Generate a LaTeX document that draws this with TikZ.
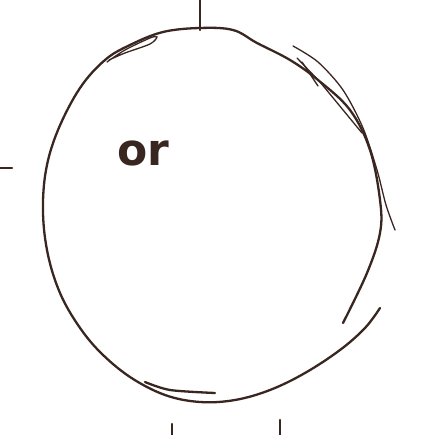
\documentclass[tikz,border=0pt]{standalone}
\usepackage{fontspec}
\setmainfont{DejaVu Sans}
\definecolor{ink}{RGB}{58,38,32}
\begin{document}
\begin{tikzpicture}[x=1pt,y=-1pt,
  pen/.style={draw=ink,line width=2.3pt,line cap=round,line join=round},
  thinpen/.style={draw=ink,line width=1.3pt,line cap=round},
  label/.style={text=ink,font=\bfseries\fontsize{44}{44}\selectfont}]
\useasboundingbox[fill=white] (0,0) rectangle (436,435);
% main circle stroke
\draw[pen] plot[smooth,tension=0.6] coordinates {
  (343,323) (367,273) (380,233) (380,200) (370,150) (350,110) (318,80) (290,60) (257,43) (233,30) (200,28) (163,32)
  (130,45) (105,60) (80,88) (58,130) (46,170) (43,213) (48,255) (60,293) (78,325) (100,352) (130,377) (165,395) (200,402) (235,400) (270,390) (305,373) (340,350) (365,328) (380,308)};
% overlap strokes
\draw[thinpen] plot[smooth] coordinates {(293,46) (318,62) (343,90) (363,128) (377,170) (386,205) (395,230)};
\draw[thinpen] (297,58) -- (320,82) -- (362,133);
\draw[thinpen] (302,62) -- (318,86);
\draw[pen] plot[smooth] coordinates {(145,382) (170,390) (215,393)};
\draw[thinpen] plot[smooth] coordinates {(107,62) (125,50) (150,38) (157,37) (150,44) (125,53) (109,60)};
% ticks
\draw[pen] (200,0) -- (200,30);
\draw[pen] (0,168) -- (12,168);
\draw[pen] (172,424) -- (172,435);
\draw[pen] (280,420) -- (280,435);
\node[label] (or) at (143,153) {or};
\end{tikzpicture}
\end{document}
